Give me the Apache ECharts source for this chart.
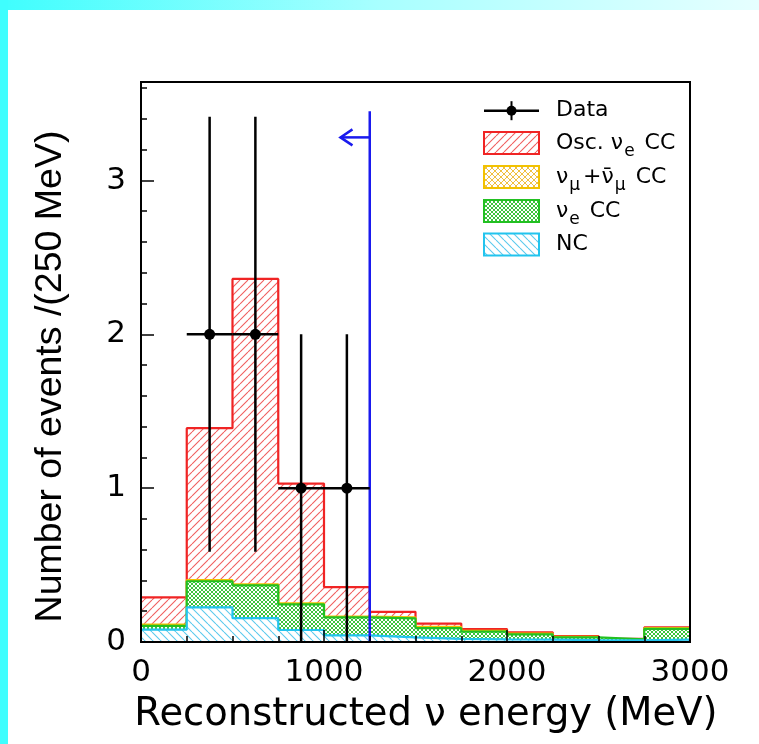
<!DOCTYPE html>
<html><head><meta charset="utf-8">
<script src="https://cdn.jsdelivr.net/npm/echarts@6/dist/echarts.min.js"></script>
<style>html,body{margin:0;padding:0;background:#fff;overflow:hidden}#c{width:759px;height:744px}</style>
</head><body><div id="c"></div>
<script>
// ---- data ----
const binEdges = [0, 250, 500, 750, 1000, 1250, 1500, 1750, 2000, 2250, 2500, 2750, 3000];
const ncEvents       = [0.080, 0.225, 0.155, 0.078, 0.043, 0.030, 0.020, 0.017, 0.015, 0.012, 0.010, 0.015];
const nueCCEvents    = [0.025, 0.170, 0.213, 0.167, 0.117, 0.123, 0.070, 0.050, 0.035, 0.018, 0.007, 0.070];
const numuCCEvents   = [0.008, 0.007, 0.007, 0.007, 0.005, 0.007, 0.008, 0.005, 0.004, 0.003, 0.002, 0.005];
const oscNueCCEvents = [0.177, 0.988, 1.985, 0.778, 0.192, 0.036, 0.022, 0.012, 0.009, 0.006, 0.002, 0.005];
const dataEnergy = [375, 625, 875, 1125];
const dataCounts = [2, 2, 1, 1];
const dataErrors = [1.414, 1.414, 1, 1];
const dataHalfBin = 125;
const cutEnergy = 1250;
const cutLineTop = 3.45;
const cutArrowY = 3.28;
const cutArrowTip = 1090;
const legendLabels = ['Data', 'Osc. νe CC', 'νμ+ν̄μ CC', 'νe CC', 'NC'];

// ---- helpers ----
function cumulate(layers) {
  return binEdges.slice(0, -1).map((_, i) => layers.reduce((s, l) => s + l[i], 0));
}
function stepData(vals) {
  return binEdges.map((e, i) => [e, vals[Math.min(i, vals.length - 1)]]);
}
function pattern(color, kind, size, lw) {
  const c = document.createElement('canvas');
  c.width = size; c.height = size;
  const g = c.getContext('2d');
  g.fillStyle = '#ffffff'; g.fillRect(0, 0, size, size);
  g.strokeStyle = color; g.lineWidth = lw;
  g.beginPath();
  for (const k of [-size, 0, size]) {
    if (kind === '/' || kind === 'x') { g.moveTo(k, size); g.lineTo(k + size, 0); }
    if (kind === '\\' || kind === 'x') { g.moveTo(k, 0); g.lineTo(k + size, size); }
  }
  g.stroke();
  return { type: 'pattern', image: c, repeat: 'repeat' };
}

const RED = '#f02424', YEL = '#f2c200', GRN = '#22c022', CYN = '#22c4ee', BLUE = '#1a1aee';
const mkRed = () => pattern('#f06060', '/', 8, 1.1);
const mkYel = () => pattern('#f0c040', 'x', 6, 1);
const mkGrn = () => pattern('#3cc43c', 'x', 4, 1);
const mkCyn = () => pattern('#5ccaee', '\\', 8, 1.1);

const ncTop = cumulate([ncEvents]);
const nueTop = cumulate([ncEvents, nueCCEvents]);
const numuTop = cumulate([ncEvents, nueCCEvents, numuCCEvents]);
const totalTop = cumulate([ncEvents, nueCCEvents, numuCCEvents, oscNueCCEvents]);

const FONT = 'DejaVu Sans';
const chart = echarts.init(document.getElementById('c'), null, { renderer: 'canvas' });

function histSeries(name, vals, color, pat, z) {
  return {
    name, type: 'line', step: 'end', data: stepData(vals), symbol: 'none', z,
    xAxisIndex: 0, yAxisIndex: 0, silent: true, animation: false,
    color: color,
    lineStyle: { color, width: 2.2 },
    areaStyle: { color: pat, opacity: 1 }
  };
}

const legendY = [110.7, 143, 177, 211, 244.5];
const legendRectY = [0, 132, 166, 200, 233.5];
const legendPats = [null, mkRed(), mkYel(), mkGrn(), mkCyn()];
const legendCols = [null, RED, YEL, GRN, CYN];
const LX = 484, LW = 55, LH = 22, TX = 556;
const rich = {
  a: { fontFamily: FONT, fontSize: 22, color: '#000' },
  s: { fontFamily: FONT, fontSize: 17, color: '#000', padding: [18, 3, 0, 1] }
};
const legendRich = [
  '{a|Data}',
  '{a|Osc. ν}{s|e}{a| CC}',
  '{a|ν}{s|μ}{a|+ν̄}{s|μ}{a| CC}',
  '{a|ν}{s|e}{a| CC}',
  '{a|NC}'
];
const legendGraphics = [];
legendGraphics.push({ type: 'line', shape: { x1: LX, y1: legendY[0], x2: LX + LW, y2: legendY[0] }, style: { stroke: '#000', lineWidth: 2.5 }, z: 50 });
legendGraphics.push({ type: 'line', shape: { x1: LX + LW / 2, y1: legendY[0] - 9.5, x2: LX + LW / 2, y2: legendY[0] + 9.5 }, style: { stroke: '#000', lineWidth: 2 }, z: 50 });
legendGraphics.push({ type: 'circle', shape: { cx: LX + LW / 2, cy: legendY[0], r: 5 }, style: { fill: '#000' }, z: 50 });
for (let i = 1; i < 5; i++) {
  legendGraphics.push({ type: 'rect', shape: { x: LX, y: legendRectY[i], width: LW, height: LH }, style: { fill: legendPats[i], stroke: legendCols[i], lineWidth: 2 }, z: 50 });
}
for (let i = 0; i < 5; i++) {
  legendGraphics.push({ type: 'text', x: TX, y: legendY[i], z: 50, style: { text: legendRich[i], rich, verticalAlign: 'middle', align: 'left' } });
}

const axisBase = {
  type: 'value', splitLine: { show: false }, z: 20,
  axisLine: { show: true, onZero: false, lineStyle: { color: '#000', width: 2 } }
};

chart.setOption({
  animation: false,
  backgroundColor: '#fff',
  grid: { left: 141, right: 69, top: 82, bottom: 102, show: true, borderColor: '#000', borderWidth: 2, backgroundColor: '#fff' },
  xAxis: [
    Object.assign({}, axisBase, {
      min: 0, max: 3000, interval: 1000, position: 'bottom',
      axisTick: { show: true, inside: true, length: 12, lineStyle: { color: '#000', width: 1.5 } },
      axisLabel: { fontFamily: FONT, fontSize: 31, color: '#000', margin: 15, formatter: v => String(v) },
      name: 'Reconstructed ν energy (MeV)', nameLocation: 'middle', nameGap: 53,
      nameTextStyle: { fontFamily: FONT, fontSize: 38.5, color: '#000', padding: [0, 0, 0, 21] }
    }),
    Object.assign({}, axisBase, {
      min: 0, max: 3000, interval: 250, position: 'bottom',
      axisLine: { show: false },
      axisTick: { show: true, inside: true, length: 6, lineStyle: { color: '#000', width: 1.5 } },
      axisLabel: { show: false }
    }),
    Object.assign({}, axisBase, {
      min: 0, max: 3000, position: 'top', axisTick: { show: false }, axisLabel: { show: false }
    })
  ],
  yAxis: [
    Object.assign({}, axisBase, {
      min: 0, max: 3.64, interval: 1, position: 'left',
      axisTick: { show: true, inside: true, length: 13, lineStyle: { color: '#000', width: 1.5 } },
      axisLabel: { fontFamily: FONT, fontSize: 31, color: '#000', margin: 15, showMaxLabel: false, formatter: v => String(v) },
      name: 'Number of events /(250 MeV)', nameLocation: 'middle', nameGap: 71,
      nameTextStyle: { fontFamily: 'Liberation Sans', fontSize: 37.5, color: '#000', padding: [0, 29, 0, 0] }
    }),
    Object.assign({}, axisBase, {
      min: 0, max: 3.64, interval: 0.2, position: 'left',
      axisLine: { show: false },
      axisTick: { show: true, inside: true, length: 6, lineStyle: { color: '#000', width: 1.5 } },
      axisLabel: { show: false }
    }),
    Object.assign({}, axisBase, {
      min: 0, max: 3.64, position: 'right', axisTick: { show: false }, axisLabel: { show: false }
    })
  ],
  series: [
    histSeries(legendLabels[1], totalTop, RED, mkRed(), 2),
    histSeries(legendLabels[2], numuTop, YEL, mkYel(), 3),
    histSeries(legendLabels[3], nueTop, GRN, mkGrn(), 4),
    histSeries(legendLabels[4], ncTop, CYN, mkCyn(), 5),
    {
      name: 'cut', type: 'custom', z: 9, silent: true, clip: false,
      data: [[cutEnergy, cutLineTop, cutArrowTip, cutArrowY]],
      encode: { x: 0, y: 1 },
      renderItem(params, api) {
        const x = api.value(0), top = api.value(1), tip = api.value(2), ay = api.value(3);
        const b = api.coord([x, 0]), t = api.coord([x, top]);
        const a0 = api.coord([x, ay]), a1 = api.coord([tip, ay]);
        const st = { stroke: BLUE, lineWidth: 2.5, fill: null };
        return { type: 'group', children: [
          { type: 'line', shape: { x1: b[0], y1: b[1], x2: t[0], y2: t[1] }, style: st },
          { type: 'line', shape: { x1: a0[0], y1: a0[1], x2: a1[0], y2: a1[1] }, style: st },
          { type: 'polyline', shape: { points: [[a1[0] + 12, a1[1] - 8], a1, [a1[0] + 12, a1[1] + 8]] }, style: st }
        ] };
      }
    },
    {
      name: legendLabels[0], type: 'custom', z: 10, silent: true, clip: false,
      data: dataEnergy.map((e, i) => [e, dataCounts[i], dataErrors[i]]),
      encode: { x: 0, y: 1 },
      renderItem(params, api) {
        const x = api.value(0), y = api.value(1), err = api.value(2);
        const c = api.coord([x, y]);
        const lo = api.coord([x, Math.max(0, y - err)]), hi = api.coord([x, y + err]);
        const l = api.coord([x - dataHalfBin, y]), r = api.coord([x + dataHalfBin, y]);
        const st = { stroke: '#000', lineWidth: 2.5 };
        return { type: 'group', children: [
          { type: 'line', shape: { x1: lo[0], y1: lo[1], x2: hi[0], y2: hi[1] }, style: st },
          { type: 'line', shape: { x1: l[0], y1: l[1], x2: r[0], y2: r[1] }, style: st },
          { type: 'circle', shape: { cx: c[0], cy: c[1], r: 5.5 }, style: { fill: '#000' } }
        ] };
      }
    }
  ],
  graphic: [
    { type: 'rect', shape: { x: 0, y: 0, width: 759, height: 10 }, z: 100,
      style: { fill: { type: 'linear', x: 0, y: 0, x2: 1, y2: 0, colorStops: [
        { offset: 0, color: '#3ffefe' }, { offset: 0.5, color: '#a8ffff' }, { offset: 1, color: '#e6ffff' } ] } } },
    { type: 'rect', shape: { x: 0, y: 0, width: 8, height: 744 }, z: 100, style: { fill: '#3ffefe' } }
  ].concat(legendGraphics)
});
</script></body></html>
